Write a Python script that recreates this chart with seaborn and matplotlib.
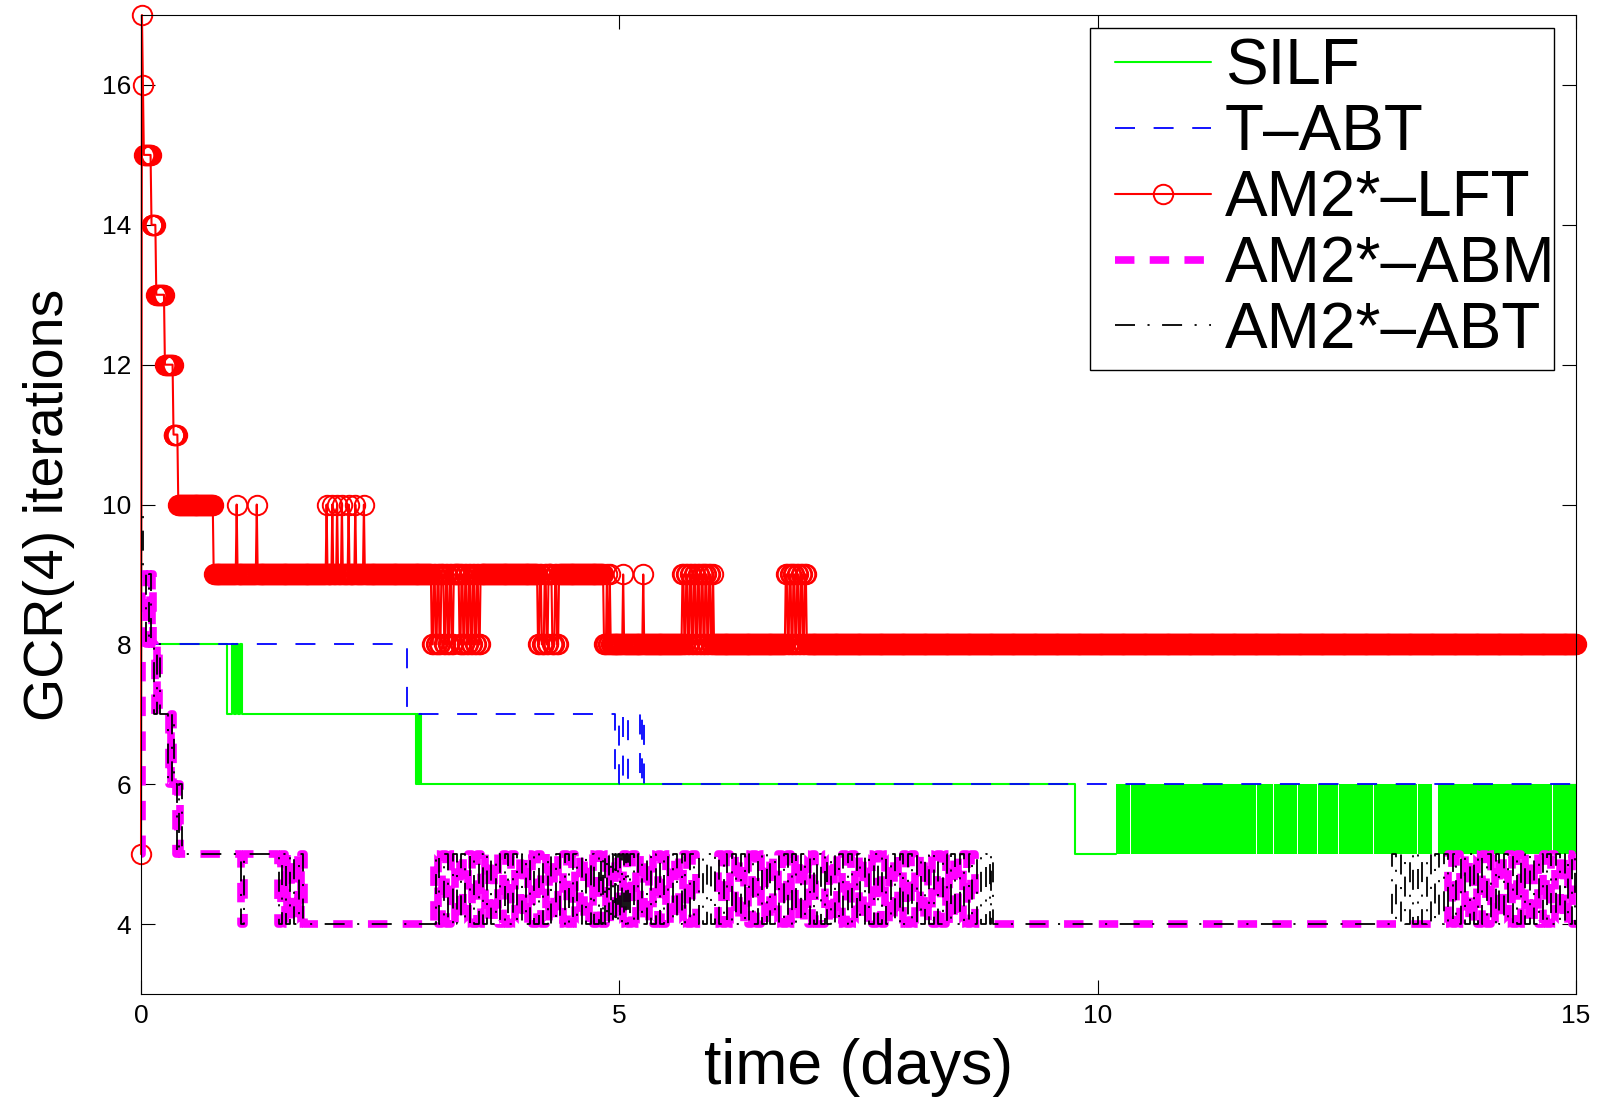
import numpy as np
import pandas as pd
import matplotlib
matplotlib.use("Agg")
import matplotlib.pyplot as plt
from matplotlib.lines import Line2D
from matplotlib.legend_handler import HandlerLine2D
import seaborn as sns

# ---------------- data ----------------
# Each series is a step series: value holds from a change time until the next one.
x_ticks = [0, 5, 10, 15]
y_ticks = [4, 6, 8, 10, 12, 14, 16]
x_label = "time (days)"
y_label = "GCR(4) iterations"
series_names = ["SILF", "T\u2013ABT", "AM2*\u2013LFT", "AM2*\u2013ABM", "AM2*\u2013ABT"]

# SILF (green)
silf_t = [0.00, 0.90, 0.95, 0.97, 0.99, 1.01, 1.04, 1.06, 2.87, 2.885, 2.90, 2.915, 2.93, 9.76, 10.19]
silf_v = [8, 7, 8, 7, 8, 7, 8, 7, 6, 7, 6, 7, 6, 5, 5]
# windows where SILF toggles 5 <-> 6 faster than the picture resolves
silf_band_low = 5
silf_band_high = 6
silf_band = [(10.19, 10.335), (10.345, 11.655), (11.665, 11.835), (11.845, 12.085),
             (12.095, 12.295), (12.305, 12.515), (12.525, 12.875), (12.885, 13.335),
             (13.345, 13.50), (13.56, 14.745), (14.755, 15.00)]

# T-ABT (blue dashed)
tabt_t = [0.00, 2.78, 4.95, 5.00, 5.04, 5.09, 5.22, 5.24, 5.26, 15.00]
tabt_v = [8, 7, 6, 7, 6, 7, 6, 7, 6, 6]

# AM2*-LFT (red, circle at every output step)
lft_base_t = [0.00, 0.01, 0.02, 0.03, 0.11, 0.16, 0.25, 0.34, 0.39, 0.76, 4.84]
lft_base_v = [5, 17, 16, 15, 14, 13, 12, 11, 10, 9, 8]
lft_spikes_10 = [(1.00, 1.01), (1.21, 1.22), (1.94, 1.95), (2.00, 2.01), (2.05, 2.06),
                 (2.10, 2.11), (2.17, 2.18), (2.24, 2.25), (2.33, 2.34)]
lft_dips_8 = [(3.04, 3.06), (3.08, 3.10), (3.12, 3.14), (3.17, 3.19), (3.21, 3.23),
              (3.25, 3.27), (3.33, 3.35), (3.37, 3.39), (3.41, 3.43), (3.45, 3.47),
              (3.49, 3.51), (3.53, 3.55),
              (4.15, 4.17), (4.19, 4.22), (4.24, 4.26), (4.30, 4.33), (4.35, 4.37)]
lft_rises_9 = [(4.87, 4.88), (4.90, 4.91), (5.04, 5.05), (5.25, 5.26),
               (5.66, 5.68), (5.70, 5.72), (5.74, 5.76), (5.78, 5.80), (5.82, 5.84),
               (5.86, 5.88), (5.90, 5.92), (5.94, 5.96), (5.98, 5.99),
               (6.74, 6.76), (6.78, 6.80), (6.82, 6.84), (6.86, 6.88), (6.90, 6.92),
               (6.94, 6.96)]
lft_output_step = 0.01   # days between stored iterations (markers)
t_end = 15.0

# AM2*-ABM (magenta, thick dashed): start, then pulses 4 -> 5 -> 4 (rise, fall)
abm_t = [0.00, 0.01, 0.05, 0.07, 0.09, 0.11, 0.13, 0.15, 0.17, 0.19, 0.29, 0.31, 0.33, 0.37,
         0.39, 0.41, 1.05, 1.08, 1.43, 1.46, 1.50, 1.53, 1.57, 1.60, 1.64, 1.67, 1.70]
abm_v = [5, 9, 8, 9, 8, 9, 8, 7, 8, 7, 6, 7, 6, 5, 6, 5, 4, 5, 4, 5, 4, 5, 4, 5, 4, 5, 4]
abm_pulses = [
    (3.06, 3.10), (3.15, 3.19), (3.24, 3.28), (3.33, 3.37), (3.42, 3.46), (3.51, 3.55),
    (3.60, 3.64), (3.69, 3.73), (3.78, 3.82), (3.87, 3.91), (3.96, 4.00), (4.05, 4.09),
    (4.14, 4.18), (4.23, 4.27), (4.32, 4.36), (4.41, 4.45), (4.50, 4.54), (4.59, 4.63),
    (4.68, 4.72), (4.77, 4.81), (4.86, 4.90), (4.95, 4.99), (5.04, 5.08), (5.13, 5.17),
    (5.22, 5.26), (5.31, 5.35), (5.40, 5.44), (5.49, 5.53), (5.58, 5.62), (5.67, 5.71),
    (5.76, 5.80),
    (6.03, 6.07), (6.12, 6.16), (6.21, 6.25), (6.30, 6.34), (6.39, 6.43), (6.48, 6.52),
    (6.57, 6.61), (6.66, 6.70), (6.75, 6.79), (6.84, 6.88), (6.93, 6.97), (7.01, 7.05),
    (7.15, 7.19), (7.24, 7.28), (7.33, 7.37), (7.42, 7.46), (7.51, 7.55), (7.60, 7.64),
    (7.69, 7.73), (7.78, 7.82), (7.87, 7.91), (7.96, 8.00), (8.05, 8.09), (8.14, 8.18),
    (8.23, 8.27), (8.32, 8.36), (8.41, 8.45), (8.50, 8.54), (8.59, 8.63), (8.68, 8.72),
    (13.66, 13.70), (13.75, 13.79), (13.84, 13.88), (13.93, 13.97), (14.02, 14.06),
    (14.11, 14.15), (14.20, 14.24), (14.29, 14.33), (14.38, 14.42), (14.47, 14.51),
    (14.56, 14.60), (14.65, 14.69), (14.74, 14.78), (14.83, 14.87), (14.92, 14.96)]

# AM2*-ABT (black dash-dot)
abt_t = [0.00, 0.005, 0.02, 0.05, 0.08, 0.10, 0.14, 0.17, 0.20, 0.28, 0.32, 0.34, 0.38,
         0.40, 0.43, 1.05, 1.08, 1.44, 1.47, 1.52, 1.56, 1.60, 1.65, 1.69]
abt_v = [5, 10, 9, 8, 9, 8, 7, 8, 7, 6, 7, 6, 5, 6, 5, 4, 5, 4, 5, 4, 5, 4, 5, 4]
abt_pulses = [
    (3.08, 3.12), (3.17, 3.21), (3.26, 3.30), (3.35, 3.39), (3.44, 3.48), (3.53, 3.57),
    (3.62, 3.66), (3.71, 3.75), (3.80, 3.84), (3.89, 3.93), (3.98, 4.02), (4.07, 4.11),
    (4.16, 4.20), (4.25, 4.29), (4.34, 4.38), (4.43, 4.47), (4.52, 4.56), (4.61, 4.65),
    (4.70, 4.74), (4.79, 4.81), (4.83, 4.85), (4.87, 4.89), (4.91, 4.93), (4.95, 4.97),
    (4.99, 5.01), (5.03, 5.05), (5.07, 5.09), (5.11, 5.15), (5.20, 5.24), (5.29, 5.33),
    (5.38, 5.42), (5.47, 5.51), (5.56, 5.60), (5.65, 5.69), (5.74, 5.78), (5.83, 5.87),
    (5.92, 5.96), (6.00, 6.04),
    (6.09, 6.13), (6.18, 6.22), (6.27, 6.31), (6.36, 6.40), (6.45, 6.49), (6.54, 6.58),
    (6.63, 6.67), (6.72, 6.76), (6.81, 6.85), (6.90, 6.94), (6.99, 7.03), (7.07, 7.11),
    (7.15, 7.17),
    (7.21, 7.25), (7.30, 7.34), (7.39, 7.43), (7.48, 7.52), (7.57, 7.61), (7.66, 7.70),
    (7.75, 7.79), (7.84, 7.88), (7.93, 7.97), (8.02, 8.06), (8.11, 8.15), (8.20, 8.24),
    (8.29, 8.33), (8.38, 8.42), (8.47, 8.51), (8.56, 8.60), (8.65, 8.69), (8.74, 8.78),
    (8.83, 8.87), (8.89, 8.91),
    (13.08, 13.12), (13.17, 13.21), (13.26, 13.30), (13.35, 13.39), (13.44, 13.48),
    (13.53, 13.57), (13.62, 13.66), (13.71, 13.75), (13.80, 13.84), (13.89, 13.93),
    (13.98, 14.02), (14.07, 14.11), (14.16, 14.20), (14.25, 14.29), (14.34, 14.38),
    (14.43, 14.47), (14.52, 14.56), (14.61, 14.65), (14.70, 14.74), (14.79, 14.83),
    (14.88, 14.92), (14.96, 14.99)]
pulse_low = 4
pulse_high = 5


# ---------------- helpers ----------------
def with_pulses(t, v, pulses, low, high, end):
    tt = list(t)
    vv = list(v)
    for r, f in pulses:
        tt += [r, f]
        vv += [high, low]
    tt.append(end)
    vv.append(low)
    return pd.DataFrame({"time": tt, "iters": vv})


def sample_steps(t, v, grid):
    idx = np.searchsorted(np.asarray(t), grid + 1e-9, side="right") - 1
    return np.asarray(v)[idx].astype(float)


def apply_windows(grid, vals, windows, level):
    for a, b in windows:
        vals[(grid >= a - 1e-9) & (grid < b - 1e-9)] = level
    return vals


silf_df = pd.DataFrame({"time": silf_t, "iters": silf_v})
tabt_df = pd.DataFrame({"time": tabt_t, "iters": tabt_v})
lft_grid = np.round(np.arange(0.0, t_end + lft_output_step / 2, lft_output_step), 4)
lft_vals = sample_steps(lft_base_t, lft_base_v, lft_grid)
lft_vals = apply_windows(lft_grid, lft_vals, lft_spikes_10, 10)
lft_vals = apply_windows(lft_grid, lft_vals, lft_dips_8, 8)
lft_vals = apply_windows(lft_grid, lft_vals, lft_rises_9, 9)
lft_df = pd.DataFrame({"time": lft_grid, "iters": lft_vals})
abm_df = with_pulses(abm_t, abm_v, abm_pulses, pulse_low, pulse_high, t_end)
abt_df = with_pulses(abt_t, abt_v, abt_pulses, pulse_low, pulse_high, t_end)

# ---------------- style ----------------
sns.set_style("ticks")
plt.rcParams["font.family"] = ["Liberation Sans", "DejaVu Sans"]
plt.rcParams["lines.scale_dashes"] = False
plt.rcParams["axes.linewidth"] = 0.8
plt.rcParams["text.color"] = "black"
plt.rcParams["axes.labelcolor"] = "black"
plt.rcParams["xtick.color"] = "black"
plt.rcParams["ytick.color"] = "black"
plt.rcParams["axes.edgecolor"] = "black"

fig = plt.figure(figsize=(16.10, 10.97), dpi=100)
ax = fig.add_axes([0.08758, 0.09389, 0.8913, 0.8924])

common = dict(ax=ax, estimator=None, sort=False)

sns.lineplot(data=silf_df, x="time", y="iters", drawstyle="steps-post",
             color=(0, 1, 0), linewidth=1.5, label=series_names[0], zorder=2.0, **common)
l_silf = ax.lines[-1]
for a, b in silf_band:
    ax.fill_between([a, b], silf_band_low, silf_band_high, color=(0, 1, 0),
                    linewidth=0, zorder=2.0)

sns.lineplot(data=tabt_df, x="time", y="iters", drawstyle="steps-post",
             color=(0, 0, 1), linewidth=1.3, label=series_names[1], zorder=2.1, **common)
l_tabt = ax.lines[-1]
l_tabt.set_dashes([14.4, 13.4])

sns.lineplot(data=lft_df, x="time", y="iters", color=(1, 0, 0), linewidth=1.5,
             marker="o", markersize=14, markerfacecolor="none", markeredgecolor=(1, 0, 0),
             markeredgewidth=1.4, label=series_names[2], zorder=2.2, clip_on=False, **common)
l_lft = ax.lines[-1]

sns.lineplot(data=abm_df, x="time", y="iters", drawstyle="steps-post",
             color=(1, 0, 1), linewidth=5.5, label=series_names[3], zorder=2.3, **common)
l_abm = ax.lines[-1]
l_abm.set_dashes([14.0, 11.0])
l_abm.set_dash_capstyle("butt")

sns.lineplot(data=abt_df, x="time", y="iters", drawstyle="steps-post",
             color="black", linewidth=1.3, label=series_names[4], zorder=2.4, **common)
l_abt = ax.lines[-1]
l_abt.set_dashes([14.4, 9.0, 1.5, 9.0])

# ---------------- axes ----------------
ax.set_xlim(0, 15)
ax.set_ylim(3, 17)
ax.set_xticks(x_ticks)
ax.set_yticks(y_ticks)
ax.set_xticklabels([str(v) for v in x_ticks])
ax.set_yticklabels([str(v) for v in y_ticks])
ax.tick_params(direction="in", length=10, width=0.8, top=True, right=True,
               labelsize=19, colors="black")
ax.tick_params(axis="x", pad=7)
ax.tick_params(axis="y", pad=7)
for s in ax.spines.values():
    s.set_color("black")
    s.set_linewidth(0.8)

ax.set_xlabel(x_label, fontsize=45, color="black")
ax.set_ylabel(y_label, fontsize=40, color="black")
ax.xaxis.set_label_coords(0.5, -0.045)
ax.yaxis.set_label_coords(-0.046, 0.5)

leg = ax.legend([l_silf, l_tabt, l_lft, l_abm, l_abt], series_names,
                loc="upper left", bbox_to_anchor=(0.6613, 0.0, 0.3233, 0.9867),
                mode="expand", borderaxespad=0.0, fontsize=46, frameon=True,
                fancybox=False, shadow=False, framealpha=1.0, edgecolor="black",
                borderpad=0.15, labelspacing=0.09, handlelength=1.745, handletextpad=0.22,
                numpoints=1, labelcolor="black",
                handler_map={Line2D: HandlerLine2D(xpad=0.235)})
leg.get_frame().set_linewidth(1.0)

fig.savefig("out.png", dpi=100, facecolor="white")
